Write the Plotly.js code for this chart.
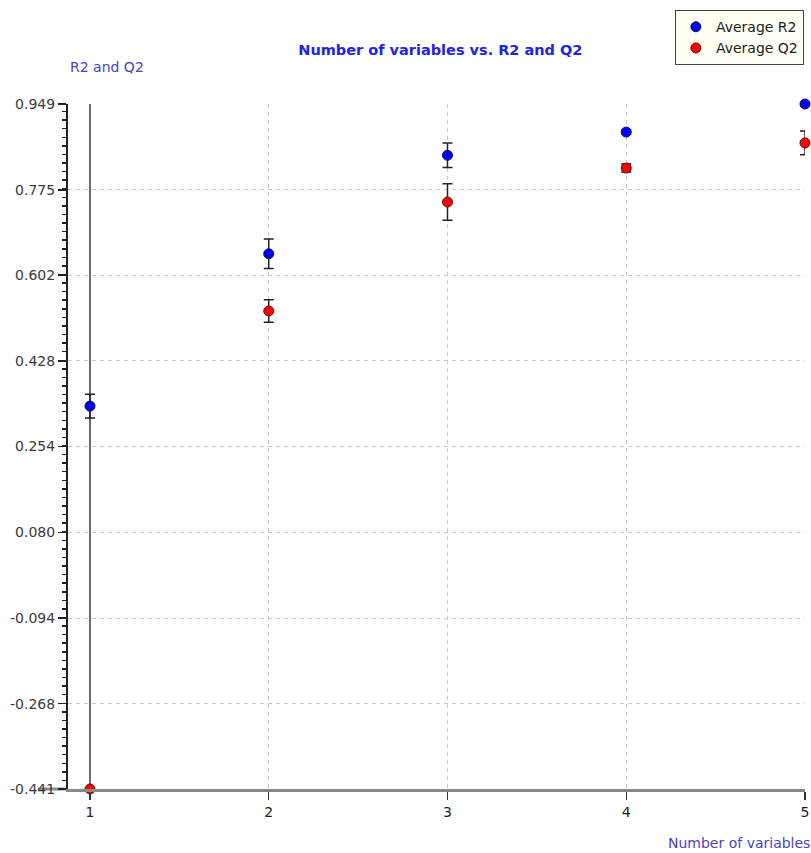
<!DOCTYPE html>
<html>
<head>
<meta charset="utf-8">
<script src="https://cdn.plot.ly/plotly-3.0.1.min.js"></script>
<style>html,body{margin:0;padding:0;background:#fff}#chart{width:811px;height:853px}</style>
</head>
<body>
<div id="chart"></div>
<script>
const numVariables = [1, 2, 3, 4, 5];
const avgR2 = [0.336, 0.645, 0.845, 0.892, 0.949];
const errR2 = [0.024, 0.030, 0.025, 0.004, 0.003];
const avgQ2 = [-0.441, 0.529, 0.750, 0.819, 0.870];
const errQ2 = [1.390, 0.023, 0.037, 0.008, 0.024];
const yTickVals = [0.949, 0.775, 0.602, 0.428, 0.254, 0.080, -0.094, -0.268, -0.441];
const yTickText = ['0.949', '0.775', '0.602', '0.428', '0.254', '0.080', '-0.094', '-0.268', '-0.441'];
const xTickVals = [1, 2, 3, 4, 5];

const FONT = 'DejaVu Sans, Verdana, sans-serif';

// Q2 at x=1 has a huge spread: drawn as a separate, cap-less grey error line
const q2Main = {x: numVariables.slice(1), y: avgQ2.slice(1), e: errQ2.slice(1)};
const q2First = {x: numVariables.slice(0, 1), y: avgQ2.slice(0, 1), e: errQ2.slice(0, 1)};

const traces = [
  {
    x: q2First.x, y: q2First.y, type: 'scatter', mode: 'markers',
    showlegend: false, hoverinfo: 'skip', cliponaxis: false,
    marker: {color: '#ff0000', size: 10, line: {color: '#5a1010', width: 1}},
    error_y: {type: 'data', array: q2First.e, arrayminus: [0], visible: true, color: '#6a6a6a', thickness: 2, width: 0}
  },
  {
    x: numVariables, y: avgR2, type: 'scatter', mode: 'markers', name: 'Average R2',
    cliponaxis: false,
    marker: {color: '#0000ff', size: 10, line: {color: '#101050', width: 1}},
    error_y: {type: 'data', array: errR2, visible: true, color: '#222222', thickness: 1.5, width: 5}
  },
  {
    x: q2Main.x, y: q2Main.y, type: 'scatter', mode: 'markers', name: 'Average Q2',
    cliponaxis: false,
    marker: {color: '#ff0000', size: 10, line: {color: '#5a1010', width: 1}},
    error_y: {type: 'data', array: q2Main.e, visible: true, color: '#222222', thickness: 1.5, width: 5}
  }
];

const layout = {
  width: 811, height: 853,
  margin: {l: 68, r: 6, t: 104, b: 64},
  paper_bgcolor: '#ffffff', plot_bgcolor: '#ffffff',
  font: {family: FONT, size: 14, color: '#333333'},
  title: {text: '<b>Number of variables vs. R2 and Q2</b>', font: {family: FONT, size: 14.5, color: '#2323e6'},
          x: 0.543, xanchor: 'center', y: 0.941, yanchor: 'middle'},
  xaxis: {
    range: [0.877, 5], tickvals: xTickVals, ticktext: xTickVals.map(String),
    showgrid: true, gridcolor: '#c8c8c8', griddash: '4px,4px', gridwidth: 1,
    zeroline: false, showline: true, linecolor: '#888888', linewidth: 3,
    ticks: 'outside', ticklen: 8, tickcolor: '#333333', tickwidth: 1.5,
    tickfont: {family: FONT, size: 14, color: '#222222'}
  },
  yaxis: {
    range: [-0.441, 0.949], tickvals: yTickVals, ticktext: yTickText,
    showgrid: true, gridcolor: '#c8c8c8', griddash: '4px,4px', gridwidth: 1,
    zeroline: false, showline: true, linecolor: '#222222', linewidth: 2,
    ticks: 'outside', ticklen: 8, tickcolor: '#222222', tickwidth: 1.5,
    tickfont: {family: FONT, size: 14, color: '#3a3a3a'},
    minor: {tick0: -0.441, dtick: 0.0174, ticks: 'outside', ticklen: 4, tickcolor: '#222222', tickwidth: 1.5, showgrid: false}
  },
  legend: {
    x: 0.9985, xanchor: 'right', y: 1.137, yanchor: 'top',
    bgcolor: '#fffff4', bordercolor: '#444444', borderwidth: 1,
    font: {family: FONT, size: 14, color: '#222222'},
    itemwidth: 30, tracegroupgap: 0
  },
  shapes: [
    {type: 'line', xref: 'paper', yref: 'paper', x0: -0.041, x1: 0, y0: 0, y1: 0,
     line: {color: '#888888', width: 3}, layer: 'below'}
  ],
  annotations: [
    {text: 'R2 and Q2', xref: 'paper', yref: 'paper', x: 0.0, y: 1.0, xanchor: 'left', yanchor: 'middle',
     yshift: 37, showarrow: false, font: {family: FONT, size: 14, color: '#4a3fc8'}},
    {text: 'Number of variables', xref: 'paper', yref: 'paper', x: 1.01, y: 0, xanchor: 'right', yanchor: 'middle',
     yshift: -54, showarrow: false, font: {family: FONT, size: 14, color: '#4a3fc8'}}
  ]
};

Plotly.newPlot('chart', traces, layout, {displayModeBar: false, staticPlot: true});
</script>
</body>
</html>
